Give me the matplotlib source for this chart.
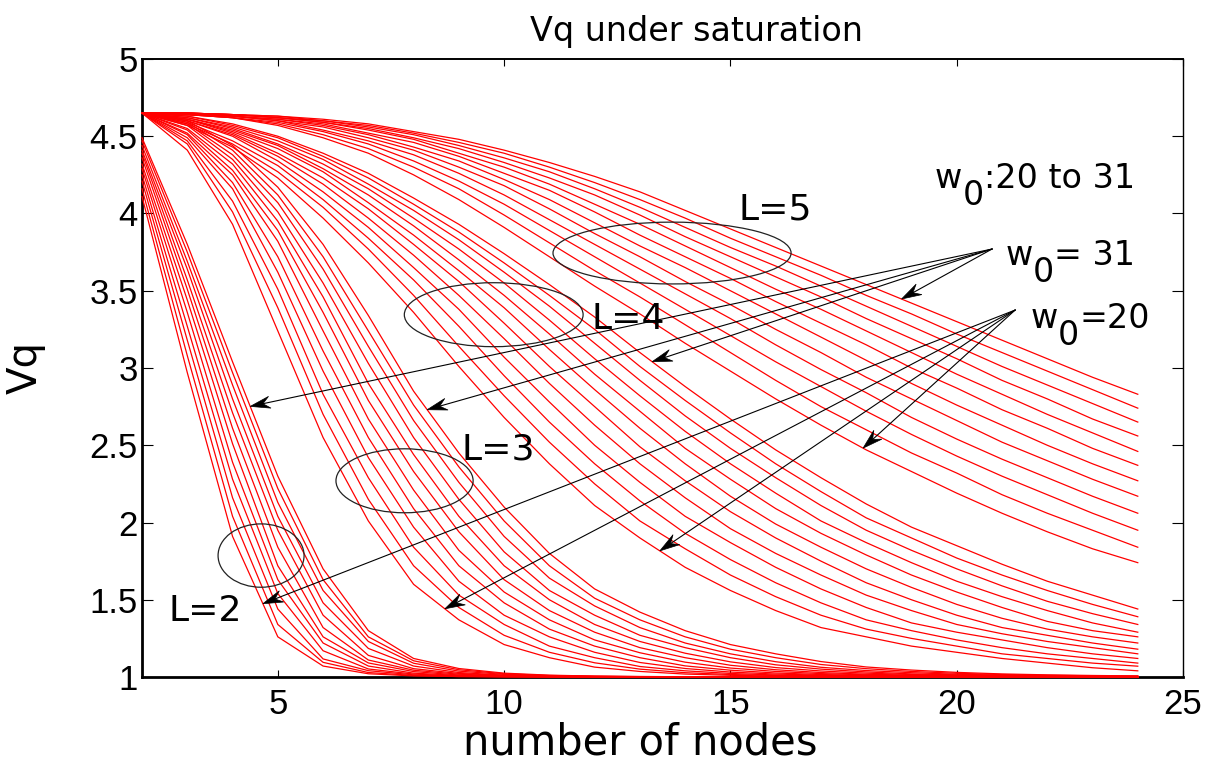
import matplotlib.pyplot as plt
import numpy as np
from matplotlib.patches import Ellipse, Polygon
from matplotlib.transforms import offset_copy, IdentityTransform

plt.rcParams['font.family'] = ['DejaVu Sans']

# number of nodes on the x axis, one curve per contention window w0 = 20 ... 31
nodes = list(range(2, 25))
w0_values = list(range(20, 32))

# Vq for L = 2, rows ordered w0 = 20 ... 31
vq_L2 = [
    [4.11, 2.97, 1.91, 1.26, 1.071, 1.021, 1.007, 1.003, 1.001, 1.0, 1.0, 1.0, 1.0, 1.0, 1.0, 1.0, 1.0, 1.0, 1.0, 1.0, 1.0, 1.0, 1.0],
    [4.16, 3.08, 2.04, 1.34, 1.095, 1.029, 1.010, 1.003, 1.002, 1.001, 1.0, 1.0, 1.0, 1.0, 1.0, 1.0, 1.0, 1.0, 1.0, 1.0, 1.0, 1.0, 1.0],
    [4.21, 3.18, 2.16, 1.44, 1.117, 1.041, 1.014, 1.005, 1.002, 1.001, 1.0, 1.0, 1.0, 1.0, 1.0, 1.0, 1.0, 1.0, 1.0, 1.0, 1.0, 1.0, 1.0],
    [4.25, 3.27, 2.28, 1.54, 1.17, 1.052, 1.019, 1.007, 1.003, 1.001, 1.0, 1.0, 1.0, 1.0, 1.0, 1.0, 1.0, 1.0, 1.0, 1.0, 1.0, 1.0, 1.0],
    [4.29, 3.36, 2.39, 1.63, 1.22, 1.071, 1.025, 1.010, 1.004, 1.002, 1.001, 1.0, 1.0, 1.0, 1.0, 1.0, 1.0, 1.0, 1.0, 1.0, 1.0, 1.0, 1.0],
    [4.32, 3.44, 2.51, 1.72, 1.26, 1.091, 1.035, 1.013, 1.006, 1.003, 1.001, 1.0, 1.0, 1.0, 1.0, 1.0, 1.0, 1.0, 1.0, 1.0, 1.0, 1.0, 1.0],
    [4.36, 3.51, 2.61, 1.84, 1.32, 1.11, 1.044, 1.018, 1.008, 1.003, 1.002, 1.001, 1.0, 1.0, 1.0, 1.0, 1.0, 1.0, 1.0, 1.0, 1.0, 1.0, 1.0],
    [4.39, 3.57, 2.71, 1.95, 1.40, 1.14, 1.054, 1.023, 1.010, 1.005, 1.002, 1.001, 1.0, 1.0, 1.0, 1.0, 1.0, 1.0, 1.0, 1.0, 1.0, 1.0, 1.0],
    [4.41, 3.64, 2.80, 2.04, 1.48, 1.185, 1.071, 1.029, 1.012, 1.006, 1.003, 1.002, 1.001, 1.0, 1.0, 1.0, 1.0, 1.0, 1.0, 1.0, 1.0, 1.0, 1.0],
    [4.44, 3.69, 2.89, 2.13, 1.56, 1.23, 1.089, 1.038, 1.017, 1.008, 1.004, 1.002, 1.001, 1.0, 1.0, 1.0, 1.0, 1.0, 1.0, 1.0, 1.0, 1.0, 1.0],
    [4.47, 3.75, 2.97, 2.22, 1.63, 1.26, 1.105, 1.047, 1.021, 1.010, 1.005, 1.003, 1.002, 1.001, 1.0, 1.0, 1.0, 1.0, 1.0, 1.0, 1.0, 1.0, 1.0],
    [4.49, 3.80, 3.04, 2.30, 1.70, 1.30, 1.12, 1.055, 1.025, 1.012, 1.006, 1.003, 1.002, 1.001, 1.001, 1.0, 1.0, 1.0, 1.0, 1.0, 1.0, 1.0, 1.0],
]

# Vq for L = 3
vq_L3 = [
    [4.65, 4.41, 3.93, 3.24, 2.55, 2.01, 1.60, 1.37, 1.21, 1.125, 1.064, 1.036, 1.019, 1.011, 1.006, 1.004, 1.003, 1.002, 1.001, 1.001, 1.001, 1.001, 1.001],
    [4.65, 4.45, 4.01, 3.39, 2.70, 2.15, 1.72, 1.45, 1.27, 1.16, 1.092, 1.051, 1.028, 1.016, 1.010, 1.006, 1.004, 1.003, 1.002, 1.001, 1.001, 1.001, 1.001],
    [4.65, 4.47, 4.08, 3.51, 2.83, 2.29, 1.84, 1.53, 1.34, 1.20, 1.125, 1.068, 1.040, 1.023, 1.013, 1.008, 1.005, 1.004, 1.002, 1.002, 1.001, 1.001, 1.001],
    [4.65, 4.49, 4.16, 3.62, 2.98, 2.42, 1.97, 1.62, 1.40, 1.26, 1.16, 1.094, 1.055, 1.032, 1.019, 1.012, 1.007, 1.005, 1.004, 1.003, 1.002, 1.001, 1.001],
    [4.65, 4.51, 4.20, 3.72, 3.11, 2.55, 2.09, 1.72, 1.48, 1.31, 1.20, 1.125, 1.072, 1.044, 1.026, 1.016, 1.010, 1.006, 1.005, 1.003, 1.002, 1.002, 1.001],
    [4.65, 4.52, 4.25, 3.82, 3.24, 2.67, 2.21, 1.82, 1.55, 1.37, 1.24, 1.157, 1.096, 1.058, 1.036, 1.022, 1.014, 1.009, 1.006, 1.004, 1.003, 1.002, 1.002],
    [4.65, 4.54, 4.28, 3.89, 3.36, 2.79, 2.33, 1.94, 1.63, 1.43, 1.29, 1.19, 1.125, 1.076, 1.047, 1.029, 1.018, 1.012, 1.008, 1.005, 1.004, 1.003, 1.002],
    [4.65, 4.55, 4.32, 3.95, 3.46, 2.90, 2.44, 2.04, 1.72, 1.50, 1.34, 1.23, 1.154, 1.098, 1.061, 1.039, 1.025, 1.016, 1.011, 1.007, 1.005, 1.004, 1.003],
    [4.65, 4.57, 4.35, 4.01, 3.55, 3.03, 2.55, 2.15, 1.81, 1.56, 1.40, 1.27, 1.19, 1.125, 1.079, 1.051, 1.033, 1.020, 1.014, 1.010, 1.006, 1.005, 1.004],
    [4.65, 4.58, 4.38, 4.07, 3.64, 3.14, 2.66, 2.26, 1.91, 1.64, 1.46, 1.32, 1.22, 1.15, 1.099, 1.063, 1.042, 1.028, 1.018, 1.012, 1.009, 1.006, 1.004],
    [4.65, 4.59, 4.41, 4.12, 3.72, 3.24, 2.76, 2.36, 2.01, 1.72, 1.51, 1.37, 1.26, 1.18, 1.125, 1.081, 1.054, 1.036, 1.024, 1.016, 1.011, 1.008, 1.005],
    [4.65, 4.60, 4.44, 4.17, 3.80, 3.34, 2.85, 2.45, 2.10, 1.80, 1.57, 1.42, 1.30, 1.21, 1.15, 1.10, 1.065, 1.045, 1.030, 1.020, 1.014, 1.010, 1.007],
]

# Vq for L = 4
vq_L4 = [
    [4.65, 4.57, 4.43, 4.23, 3.97, 3.68, 3.36, 3.01, 2.68, 2.38, 2.11, 1.90, 1.71, 1.56, 1.43, 1.32, 1.26, 1.20, 1.16, 1.12, 1.09, 1.06, 1.04],
    [4.65, 4.58, 4.45, 4.27, 4.04, 3.77, 3.47, 3.14, 2.82, 2.52, 2.25, 2.01, 1.83, 1.66, 1.52, 1.40, 1.31, 1.25, 1.20, 1.15, 1.12, 1.09, 1.07],
    [4.65, 4.59, 4.47, 4.31, 4.09, 3.84, 3.57, 3.27, 2.95, 2.65, 2.38, 2.14, 1.93, 1.76, 1.61, 1.48, 1.37, 1.30, 1.24, 1.19, 1.15, 1.12, 1.09],
    [4.65, 4.60, 4.50, 4.34, 4.14, 3.91, 3.65, 3.38, 3.07, 2.78, 2.50, 2.26, 2.04, 1.87, 1.71, 1.57, 1.45, 1.35, 1.29, 1.24, 1.19, 1.15, 1.12],
    [4.65, 4.60, 4.51, 4.37, 4.19, 3.97, 3.73, 3.47, 3.19, 2.90, 2.63, 2.38, 2.16, 1.96, 1.80, 1.66, 1.53, 1.43, 1.34, 1.28, 1.23, 1.19, 1.15],
    [4.65, 4.61, 4.52, 4.39, 4.23, 4.03, 3.80, 3.56, 3.29, 3.01, 2.75, 2.49, 2.27, 2.07, 1.90, 1.75, 1.61, 1.50, 1.40, 1.32, 1.27, 1.22, 1.18],
    [4.65, 4.61, 4.53, 4.42, 4.27, 4.07, 3.86, 3.63, 3.39, 3.12, 2.86, 2.61, 2.38, 2.17, 1.99, 1.84, 1.70, 1.58, 1.47, 1.38, 1.31, 1.26, 1.22],
    [4.65, 4.61, 4.54, 4.44, 4.29, 4.12, 3.92, 3.70, 3.47, 3.22, 2.96, 2.72, 2.48, 2.28, 2.09, 1.93, 1.79, 1.66, 1.55, 1.45, 1.36, 1.30, 1.26],
    [4.65, 4.62, 4.55, 4.45, 4.32, 4.16, 3.97, 3.77, 3.55, 3.31, 3.06, 2.82, 2.59, 2.38, 2.19, 2.01, 1.87, 1.74, 1.62, 1.52, 1.43, 1.35, 1.29],
    [4.65, 4.62, 4.56, 4.47, 4.35, 4.19, 4.02, 3.83, 3.62, 3.40, 3.16, 2.92, 2.69, 2.48, 2.29, 2.11, 1.95, 1.82, 1.70, 1.59, 1.49, 1.41, 1.34],
    [4.65, 4.63, 4.57, 4.49, 4.37, 4.23, 4.06, 3.88, 3.68, 3.47, 3.25, 3.01, 2.79, 2.58, 2.38, 2.20, 2.03, 1.90, 1.77, 1.66, 1.56, 1.47, 1.39],
    [4.65, 4.63, 4.58, 4.50, 4.39, 4.26, 4.10, 3.93, 3.74, 3.54, 3.33, 3.10, 2.88, 2.67, 2.47, 2.29, 2.12, 1.97, 1.85, 1.73, 1.62, 1.53, 1.44],
]

# Vq for L = 5
vq_L5 = [
    [4.65, 4.64, 4.62, 4.57, 4.49, 4.39, 4.25, 4.09, 3.91, 3.72, 3.53, 3.35, 3.16, 2.98, 2.80, 2.63, 2.47, 2.33, 2.19, 2.06, 1.94, 1.83, 1.74],
    [4.65, 4.64, 4.62, 4.58, 4.51, 4.42, 4.30, 4.16, 3.99, 3.81, 3.63, 3.46, 3.28, 3.10, 2.92, 2.75, 2.60, 2.45, 2.32, 2.18, 2.06, 1.95, 1.84],
    [4.65, 4.64, 4.62, 4.59, 4.53, 4.45, 4.34, 4.21, 4.06, 3.89, 3.72, 3.55, 3.38, 3.21, 3.04, 2.88, 2.72, 2.57, 2.43, 2.30, 2.18, 2.06, 1.95],
    [4.65, 4.64, 4.63, 4.60, 4.54, 4.47, 4.38, 4.26, 4.12, 3.96, 3.80, 3.64, 3.48, 3.32, 3.15, 2.99, 2.84, 2.68, 2.54, 2.41, 2.29, 2.17, 2.06],
    [4.65, 4.64, 4.63, 4.60, 4.56, 4.49, 4.41, 4.30, 4.18, 4.03, 3.87, 3.72, 3.56, 3.41, 3.25, 3.10, 2.94, 2.80, 2.66, 2.52, 2.40, 2.28, 2.17],
    [4.65, 4.65, 4.63, 4.61, 4.57, 4.51, 4.43, 4.34, 4.22, 4.09, 3.94, 3.79, 3.65, 3.50, 3.35, 3.20, 3.05, 2.90, 2.76, 2.63, 2.50, 2.38, 2.27],
    [4.65, 4.65, 4.63, 4.61, 4.58, 4.52, 4.46, 4.37, 4.26, 4.15, 4.01, 3.86, 3.72, 3.58, 3.43, 3.29, 3.15, 3.00, 2.87, 2.73, 2.61, 2.48, 2.37],
    [4.65, 4.65, 4.64, 4.62, 4.59, 4.54, 4.48, 4.39, 4.30, 4.19, 4.06, 3.93, 3.79, 3.65, 3.51, 3.38, 3.24, 3.10, 2.96, 2.83, 2.70, 2.58, 2.46],
    [4.65, 4.65, 4.64, 4.62, 4.59, 4.55, 4.49, 4.42, 4.33, 4.23, 4.12, 3.99, 3.85, 3.72, 3.59, 3.46, 3.32, 3.19, 3.06, 2.92, 2.80, 2.67, 2.56],
    [4.65, 4.65, 4.64, 4.62, 4.60, 4.56, 4.51, 4.44, 4.36, 4.27, 4.16, 4.04, 3.91, 3.78, 3.66, 3.53, 3.40, 3.27, 3.14, 3.01, 2.89, 2.77, 2.65],
    [4.65, 4.65, 4.64, 4.63, 4.60, 4.57, 4.52, 4.46, 4.39, 4.30, 4.20, 4.09, 3.97, 3.84, 3.72, 3.60, 3.47, 3.35, 3.22, 3.10, 2.98, 2.86, 2.74],
    [4.65, 4.65, 4.64, 4.63, 4.61, 4.58, 4.53, 4.48, 4.41, 4.33, 4.24, 4.14, 4.02, 3.90, 3.78, 3.66, 3.54, 3.42, 3.30, 3.18, 3.06, 2.94, 2.83],
]

families = [vq_L2, vq_L3, vq_L4, vq_L5]

# annotations: family labels (left, baseline), grouping ellipses and arrows
family_labels = ['L=2', 'L=3', 'L=4', 'L=5']
label_xy = [(2.58, 1.36), (9.05, 2.41), (11.92, 3.25), (15.17, 3.96)]
ellipse_specs = [((4.63, 1.786), 1.90, 0.41), ((7.80, 2.27), 3.03, 0.414),
                 ((9.77, 3.345), 3.95, 0.414), ((13.71, 3.744), 5.26, 0.40)]
w0_texts = [((19.52, 4.163), ':20 to 31'), ((21.07, 3.667), '= 31'), ((21.63, 3.257), '=20')]
tail_w31 = (20.78, 3.77)
tip_x_w31 = [4.39, 8.30, 13.27, 18.78]
tail_w20 = (21.29, 3.375)
tip_x_w20 = [4.67, 8.69, 13.44, 17.93]

fig = plt.figure(figsize=(12.16, 7.63), dpi=100)
ax = fig.add_axes([0.1168, 0.1127, 0.8561, 0.81])

for fam in families:
    for row in fam:
        ax.plot(nodes, row, color='#ff0000', lw=0.9, clip_on=False, zorder=3)

ax.set_xlim(2, 25)
ax.set_ylim(1, 5)
ax.set_xticks([5, 10, 15, 20, 25])
ax.set_yticks(np.arange(1, 5.01, 0.5))
ax.set_yticklabels(['1', '1.5', '2', '2.5', '3', '3.5', '4', '4.5', '5'])
ax.tick_params(axis='both', which='major', direction='in', top=True, right=True,
               labelsize=25, width=0.8, colors='k')
ax.tick_params(axis='x', length=5, pad=8)
ax.tick_params(axis='y', length=8, pad=3)
for lab in ax.get_xticklabels() + ax.get_yticklabels():
    lab.set_fontfamily('Liberation Sans')
for side, lw in [('left', 2.0), ('bottom', 2.0), ('top', 1.4), ('right', 1.0)]:
    ax.spines[side].set_linewidth(lw)

ax.set_title('Vq under saturation', fontsize=24, pad=13, x=0.533)
ax.set_xlabel('number of nodes', fontsize=30)
ax.set_ylabel('Vq', fontsize=29)
ax.xaxis.set_label_coords(0.479, -0.072)
ax.yaxis.set_label_coords(-0.093, 0.5)

for text, (x, y) in zip(family_labels, label_xy):
    ax.text(x, y, text, fontsize=26, ha='left', va='baseline')

for (c, w, h) in ellipse_specs:
    ax.add_patch(Ellipse(c, w, h, fill=False, edgecolor='#222222', lw=0.9, zorder=4))

# w0 labels: the subscript 0 is kept at full size and dropped below the baseline
renderer = fig.canvas.get_renderer()
for (x, y), rest in w0_texts:
    dx = 0.0
    for s, dy in [('w', 0), ('0', -17), (rest, 0)]:
        tr = offset_copy(ax.transData, fig=fig, x=dx, y=dy, units='dots')
        t = ax.text(x, y, s, fontsize=24, ha='left', va='baseline', transform=tr)
        dx += t.get_window_extent(renderer).width


def draw_arrow(tail, tip):
    """Thin shaft with a notched arrow head, head built in pixel space."""
    p0 = ax.transData.transform(tail)
    p1 = ax.transData.transform(tip)
    u = (p1 - p0) / np.hypot(*(p1 - p0))
    v = np.array([-u[1], u[0]])
    notch = p1 - 13 * u
    shaft_end = ax.transData.inverted().transform(notch)
    ax.plot([tail[0], shaft_end[0]], [tail[1], shaft_end[1]], color='k', lw=0.8, zorder=5)
    head = [p1, p1 - 20 * u + 6 * v, notch, p1 - 20 * u - 6 * v]
    ax.add_patch(Polygon(head, closed=True, transform=IdentityTransform(),
                         facecolor='k', edgecolor='k', lw=0.5, zorder=6))


for fam, tx in zip(families, tip_x_w31):
    draw_arrow(tail_w31, (tx, np.interp(tx, nodes, fam[-1])))
for fam, tx in zip(families, tip_x_w20):
    draw_arrow(tail_w20, (tx, np.interp(tx, nodes, fam[0])))

fig.savefig('out.png', dpi=100)
